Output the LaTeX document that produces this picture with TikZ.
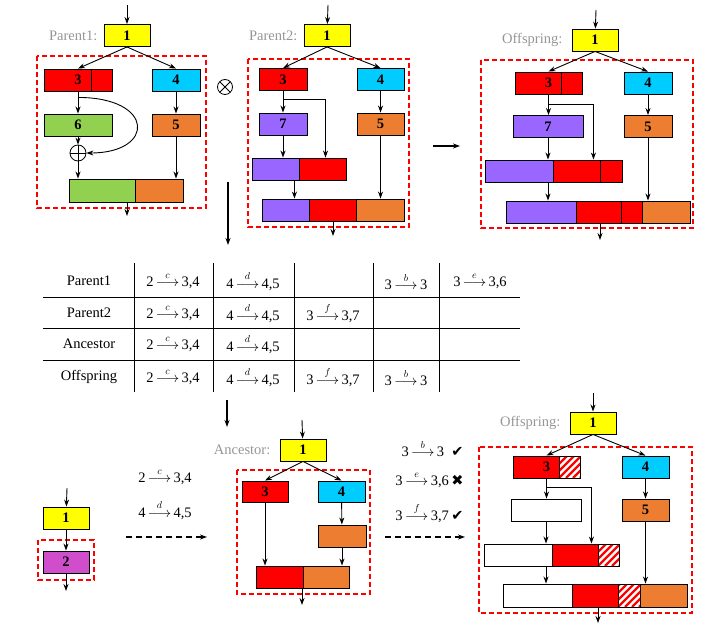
\documentclass[tikz,border=0pt]{standalone}
\usepackage{amsmath}
\usepackage{fontspec}
\setmainfont{Liberation Serif}
\newfontfamily\markfont{DejaVu Sans}
\usetikzlibrary{positioning,arrows.meta}

\definecolor{gyellow}{RGB}{255,255,0}
\definecolor{gred}{RGB}{255,0,0}
\definecolor{gcyan}{RGB}{0,204,255}
\definecolor{gorange}{RGB}{237,125,49}
\definecolor{ggreen}{RGB}{146,208,80}
\definecolor{gpurple}{RGB}{153,102,255}
\definecolor{gmagenta}{RGB}{208,78,204}
\definecolor{taggray}{RGB}{150,150,150}

\newcommand{\rul}[3]{#1\,$\overset{#2}{\longrightarrow}$\,#3}

\tikzset{
  box/.style={draw,line width=0.9pt,minimum height=22pt,inner sep=0pt,font=\fontsize{14.5}{16}\selectfont\bfseries},
  hatch/.style={box,fill=white,path picture={
    \foreach \k in {-28,-21,...,35}
      \draw[gred,line width=2.4pt] ([xshift=\k pt]path picture bounding box.south west) -- ++(30pt,30pt);}},
  plus/.style={circle,draw,line width=0.8pt,minimum size=16pt,inner sep=0pt,path picture={
    \draw (path picture bounding box.north) -- (path picture bounding box.south)
          (path picture bounding box.west) -- (path picture bounding box.east);}},
  times/.style={circle,draw,line width=0.8pt,minimum size=15pt,inner sep=0pt,path picture={
    \draw (path picture bounding box.north west) -- (path picture bounding box.south east)
          (path picture bounding box.south west) -- (path picture bounding box.north east);}},
  tag/.style={text=taggray,inner sep=1pt},
  frame/.style={color=gred,line width=1.2pt,dash pattern=on 5pt off 3pt},
  flow/.style={->,line width=0.9pt},
  bigflow/.style={->,line width=1.6pt},
  dashflow/.style={->,line width=1.6pt,dash pattern=on 6pt off 4pt}
}

\begin{document}
\begin{tikzpicture}[x=1pt,y=-1pt,font=\fontsize{14.5}{16}\selectfont,>={Stealth[length=7pt,width=5pt]}]
\useasboundingbox (0,0) rectangle (709,636);

\coordinate (a0) at (127,5);
\node[box,fill=gyellow,minimum width=46pt] (a1) at (127,35.5) {1};
\node[tag,left=5pt of a1] (a1t) {Parent1:};
\draw[frame] (37,56) rectangle (206,208);
\node[box,fill=gred,minimum width=68pt] (a3) at (78,80) {3};
\draw[line width=0.9pt] ([xshift=13pt]a3.north) -- ([xshift=13pt]a3.south);
\node[box,fill=gcyan,minimum width=48pt] (a4) at (176,80) {4};
\node[box,fill=ggreen,minimum width=68pt] (a6) at (78,125) {6};
\node[box,fill=gorange,minimum width=48pt] (a5) at (176,125) {5};
\node[plus] (ax) at (78,153) {};
\node[box,fill=ggreen,minimum width=66pt,minimum height=23pt] (a7g) at (102,190.5) {};
\node[box,fill=gorange,minimum width=48pt,minimum height=23pt] (a7o) at (159,190.5) {};
\coordinate (a8) at (127,216);
\draw[flow] (a0) -- (a1);
\draw[flow] (a1.south) -- (a3.north);
\draw[flow] (a1.south) -- (a4.north);
\draw[flow] (a3) -- (a6);
\draw[flow] ([yshift=-6pt]a3.south) .. controls +(77,0) and +(69,0) .. (ax.east);
\draw[flow] (a6) -- (ax);
\draw[flow] (ax) -- (ax |- a7g.north);
\draw[flow] (a4) -- (a5);
\draw[flow] (a5) -- (a5 |- a7o.north);
\draw[flow] (a8 |- a7g.south) -- (a8);

\node[times] (cross) at (225,87) {};

\coordinate (b0) at (328,5);
\node[box,fill=gyellow,minimum width=46pt] (b1) at (327,35.5) {1};
\node[tag,left=5pt of b1] (b1t) {Parent2:};
\draw[frame] (248,59) rectangle (409,227);
\node[box,fill=gred,minimum width=48pt] (b3) at (283,79.5) {3};
\node[box,fill=gcyan,minimum width=47pt] (b4) at (380.5,79.5) {4};
\node[box,fill=gpurple,minimum width=48pt] (b7) at (283,124) {7};
\node[box,fill=gorange,minimum width=47pt] (b5) at (380.5,124) {5};
\node[box,fill=gpurple,minimum width=47pt] (b8p) at (275.5,169) {};
\node[box,fill=gred,minimum width=47pt] (b8r) at (322.5,169) {};
\node[box,fill=gpurple,minimum width=47pt] (b9p) at (285.5,210) {};
\node[box,fill=gred,minimum width=47pt] (b9r) at (332.5,210) {};
\node[box,fill=gorange,minimum width=48pt] (b9o) at (380,210) {};
\coordinate (b8s) at ([xshift=-5pt]b8p.south east);
\coordinate (b10) at (333,236);
\draw[flow] (b0) -- (b1);
\draw[flow] (b1.south) -- (b3.north);
\draw[flow] (b1.south) -- (b4.north);
\draw[flow] (b3) -- (b7);
\draw[flow] ([yshift=-9pt]b3.south) -| ([xshift=3pt]b8r.north);
\draw[flow] (b7) -- (b7 |- b8p.north);
\draw[flow] (b8s) -- (b8s |- b9p.north);
\draw[flow] (b4) -- (b5);
\draw[flow] (b5) -- (b5 |- b9o.north);
\draw[flow] (b10 |- b9r.south) -- (b10);

\coordinate (s1) at (433,146);
\coordinate (s2) at (460,146);
\draw[bigflow] (s1) -- (s2);
\coordinate (s3) at (228,182);
\coordinate (s4) at (228,245);
\draw[bigflow] (s3) -- (s4);

\coordinate (c0) at (596,10);
\node[box,fill=gyellow,minimum width=46pt] (c1) at (595,40) {1};
\node[tag,left=8pt of c1] (c1t) {Offspring:};
\draw[frame] (481,60) rectangle (693,228);
\node[box,fill=gred,minimum width=67pt] (c3) at (548.5,83) {3};
\draw[line width=0.9pt] ([xshift=12.5pt]c3.north) -- ([xshift=12.5pt]c3.south);
\node[box,fill=gcyan,minimum width=48pt] (c4) at (648,83) {4};
\node[box,fill=gpurple,minimum width=70pt] (c7) at (548,126.5) {7};
\node[box,fill=gorange,minimum width=48pt] (c5) at (648,126.5) {5};
\node[box,fill=gpurple,minimum width=68pt] (c8p) at (519,171) {};
\node[box,fill=gred,minimum width=47pt] (c8r) at (576.5,171) {};
\node[box,fill=gred,minimum width=22pt] (c8s) at (611,171) {};
\node[box,fill=gpurple,minimum width=70pt] (c9p) at (541,212) {};
\node[box,fill=gred,minimum width=45pt] (c9r) at (598.5,212) {};
\node[box,fill=gred,minimum width=21pt] (c9s) at (631.5,212) {};
\node[box,fill=gorange,minimum width=48pt] (c9o) at (666,212) {};
\coordinate (c10) at (600,240);
\draw[flow] (c0) -- (c1);
\draw[flow] (c1.south) -- (c3.north);
\draw[flow] (c1.south) -- (c4.north);
\draw[flow] (c3) -- (c3 |- c7.north);
\draw[flow] ([yshift=-10pt]c3.south) -| ([xshift=-7pt]c8r.north east);
\draw[flow] (c7) -- (c7 |- c8p.north);
\draw[flow] (c7 |- c8p.south) -- (c7 |- c9p.north);
\draw[flow] (c4) -- (c5);
\draw[flow] (c5) -- (c5 |- c9o.north);
\draw[flow] (c10 |- c9r.south) -- (c10);

\foreach \y in {297,328,360} \draw[line width=0.8pt] (43,\y) -- (520,\y);
\foreach \x in {134,213,294,373,439} \draw[line width=0.8pt] (\x,263) -- (\x,392);
\node (t1) at (89,281) {Parent1};
\node (t2) at (89,313) {Parent2};
\node (t3) at (89,344) {Ancestor};
\node (t4) at (89,377) {Offspring};
\node (t1a) at (173,281) {\rul{2}{c}{3,4}};
\node (t2a) at (173,313) {\rul{2}{c}{3,4}};
\node (t3a) at (173,344) {\rul{2}{c}{3,4}};
\node (t4a) at (173,377) {\rul{2}{c}{3,4}};
\node (t1b) at (253,281) {\rul{4}{d}{4,5}};
\node (t2b) at (253,313) {\rul{4}{d}{4,5}};
\node (t3b) at (253,344) {\rul{4}{d}{4,5}};
\node (t4b) at (253,377) {\rul{4}{d}{4,5}};
\node (t2c) at (333,313) {\rul{3}{f}{3,7}};
\node (t4c) at (333,377) {\rul{3}{f}{3,7}};
\node (t1d) at (406,281) {\rul{3}{b}{3}};
\node (t4d) at (406,377) {\rul{3}{b}{3}};
\node (t1e) at (480,281) {\rul{3}{e}{3,6}};

\coordinate (s5) at (227,400);
\coordinate (s6) at (227,427);
\draw[bigflow] (s5) -- (s6);

\coordinate (d0) at (67,488);
\node[box,fill=gyellow,minimum width=46pt] (d1) at (66,518) {1};
\draw[frame] (38,540) rectangle (94,580);
\node[box,fill=gmagenta,minimum width=46pt] (d2) at (66,562) {2};
\coordinate (d3) at (66,591);
\draw[flow] (d0) -- (d1);
\draw[flow] (d1) -- (d2);
\draw[flow] (d2) -- (d3);

\node (r1) at (165,477) {\rul{2}{c}{3,4}};
\node (r2) at (165,510) {\rul{4}{d}{4,5}};
\coordinate (s7) at (126,537);
\coordinate (s8) at (207,537);
\draw[dashflow] (s7) -- (s8);

\coordinate (e0) at (302,420);
\node[box,fill=gyellow,minimum width=46pt] (e1) at (303,450) {1};
\node[tag,left=8pt of e1] (e1t) {Ancestor:};
\draw[frame] (237,470) rectangle (370,594);
\node[box,fill=gred,minimum width=46pt,minimum height=21pt] (e3) at (265,491.5) {3};
\node[box,fill=gcyan,minimum width=47pt,minimum height=21pt] (e4) at (341.5,491.5) {4};
\node[box,fill=gorange,minimum width=48pt] (e5) at (342,536) {};
\node[box,fill=gred,minimum width=47pt] (e6r) at (279.5,577) {};
\node[box,fill=gorange,minimum width=46pt] (e6o) at (326,577) {};
\coordinate (e7) at (302,605);
\draw[flow] (e0) -- (e1);
\draw[flow] (e1.south) -- (e3.north);
\draw[flow] (e1.south) -- (e4.north);
\draw[flow] (e3) -- (e3 |- e6r.north);
\draw[flow] (e4) -- (e5);
\draw[flow] (e5) -- (e5 |- e6o.north);
\draw[flow] (e7 |- e6r.south) -- (e7);

\node[anchor=east] (f1) at (467,448) {\rul{3}{b}{3}\enspace{\markfont ✔}};
\node[anchor=east] (f2) at (467,480) {\rul{3}{e}{3,6}\,{\markfont ✖}};
\node[anchor=east] (f3) at (467,513) {\rul{3}{f}{3,7}\,{\markfont ✔}};
\coordinate (s9) at (385,537);
\coordinate (s10) at (465,537);
\draw[dashflow] (s9) -- (s10);

\coordinate (g0) at (593,393);
\node[box,fill=gyellow,minimum width=46pt] (g1) at (593,423) {1};
\node[tag,left=8pt of g1] (g1t) {Offspring:};
\draw[frame] (479,447) rectangle (692,613);
\node[box,fill=gred,minimum width=67pt] (g3) at (546.5,467) {3};
\node[hatch,minimum width=21pt] (g3h) at (569.5,467) {};
\node[box,fill=gcyan,minimum width=47pt] (g4) at (645.5,467) {4};
\node[box,fill=white,minimum width=70pt] (g7) at (546,510) {};
\node[box,fill=gorange,minimum width=47pt] (g5) at (645.5,510) {5};
\node[box,fill=white,minimum width=68pt] (g8w) at (518,555) {};
\node[box,fill=gred,minimum width=46pt] (g8r) at (575,555) {};
\node[hatch,minimum width=21pt] (g8h) at (608.5,555) {};
\node[box,fill=white,minimum width=69pt,minimum height=23pt] (g9w) at (537.5,595.5) {};
\node[box,fill=gred,minimum width=46pt,minimum height=23pt] (g9r) at (595,595.5) {};
\node[hatch,minimum width=22pt,minimum height=23pt] (g9h) at (629,595.5) {};
\node[box,fill=gorange,minimum width=47pt,minimum height=23pt] (g9o) at (663.5,595.5) {};
\coordinate (g10) at (598,623);
\draw[flow] (g0) -- (g1);
\draw[flow] (g1.south) -- (g3.north);
\draw[flow] (g1.south) -- (g4.north);
\draw[flow] (g3) -- (g3 |- g7.north);
\draw[flow] ([yshift=-9pt]g3.south) -| ([xshift=-7pt]g8r.north east);
\draw[flow] (g7) -- (g7 |- g8w.north);
\draw[flow] (g7 |- g8w.south) -- (g7 |- g9w.north);
\draw[flow] (g4) -- (g5);
\draw[flow] (g5) -- (g5 |- g9o.north);
\draw[flow] (g10 |- g9r.south) -- (g10);
\end{tikzpicture}
\end{document}
